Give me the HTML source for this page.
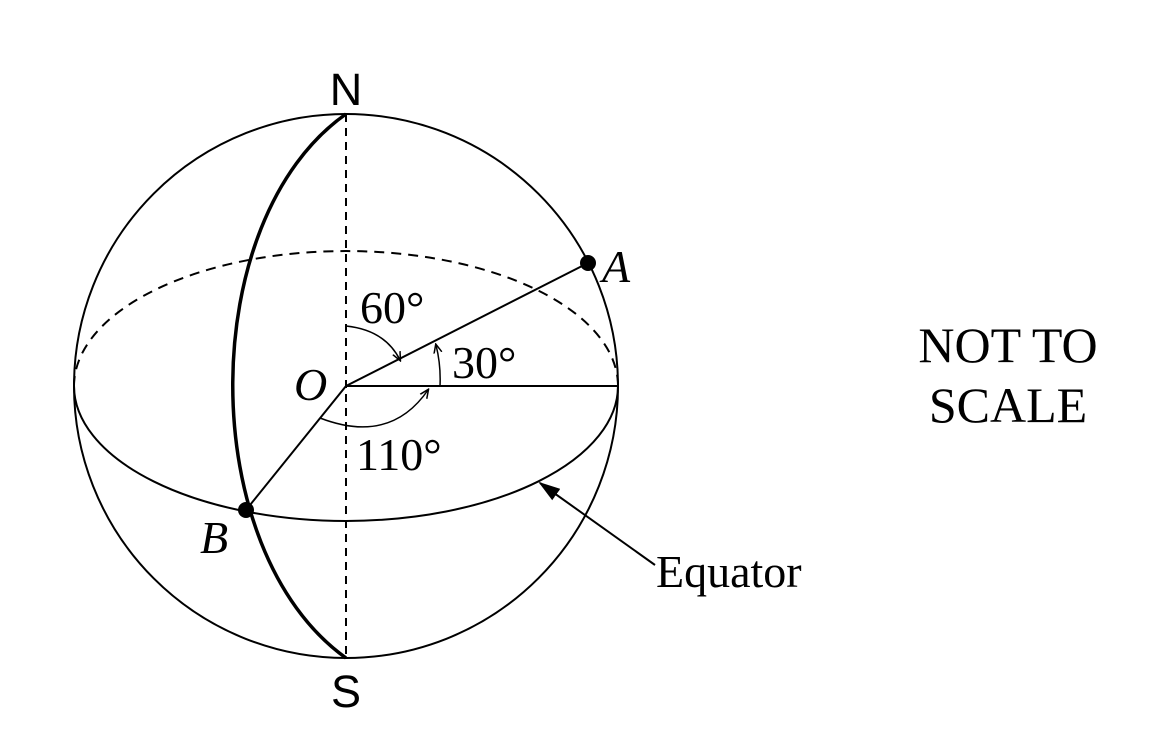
<!DOCTYPE html>
<html><head><style>body{margin:0;background:#fff}svg{display:block}</style></head><body>
<svg width="1158" height="756" viewBox="0 0 1158 756" xmlns="http://www.w3.org/2000/svg">
<defs><marker id="ar" markerWidth="10" markerHeight="10" refX="8" refY="5" orient="auto" markerUnits="userSpaceOnUse"><path d="M0,1 L9,5 L0,9" fill="none" stroke="#000" stroke-width="1.5"/></marker>
<marker id="af" markerWidth="22" markerHeight="14" refX="20" refY="7" orient="auto" markerUnits="userSpaceOnUse"><path d="M0,0 L22,7 L0,14 Z" fill="#000"/></marker></defs>
<g fill="none" stroke="#000" stroke-width="2">
<circle cx="346" cy="386" r="272"/>
<path d="M74,386 A272,135 0 0 0 618,386"/>
<path d="M74,386 A272,135 0 0 1 618,386" stroke-dasharray="10,7"/>
<line x1="346" y1="114" x2="346" y2="658" stroke-dasharray="8,6"/>
<path d="M346,114 C195,220 195,550 346,658" stroke-width="3.5"/>
<line x1="346" y1="386" x2="588" y2="263"/>
<line x1="346" y1="386" x2="618" y2="386"/>
<line x1="346" y1="386" x2="246" y2="510"/>
<path d="M346,326 Q385,330 400,360" marker-end="url(#ar)" stroke-width="1.5"/>
<path d="M440,386 Q441,365 436,345" marker-end="url(#ar)" stroke-width="1.5"/>
<path d="M320,418 Q390,445 428,390" marker-end="url(#ar)" stroke-width="1.5"/>
<line x1="655" y1="565" x2="540" y2="483" marker-end="url(#af)"/>
</g>
<circle cx="588" cy="263" r="8"/>
<circle cx="246" cy="510" r="8"/>
<g font-family="Liberation Serif, serif" font-size="46">
<text x="346" y="105" font-family="Liberation Sans, sans-serif" font-size="45" text-anchor="middle">N</text>
<text x="346" y="707" font-family="Liberation Sans, sans-serif" font-size="45" text-anchor="middle">S</text>
<text x="602" y="282" font-style="italic">A</text>
<text x="294" y="400" font-style="italic">O</text>
<text x="200" y="553" font-style="italic">B</text>
<text x="360" y="323">60°</text>
<text x="452" y="378">30°</text>
<text x="356" y="470">110°</text>
<text x="656" y="587">Equator</text>
<text x="1008" y="362" text-anchor="middle" font-size="50">NOT TO</text>
<text x="1008" y="422" text-anchor="middle" font-size="50">SCALE</text>
</g>
</svg>
</body></html>
